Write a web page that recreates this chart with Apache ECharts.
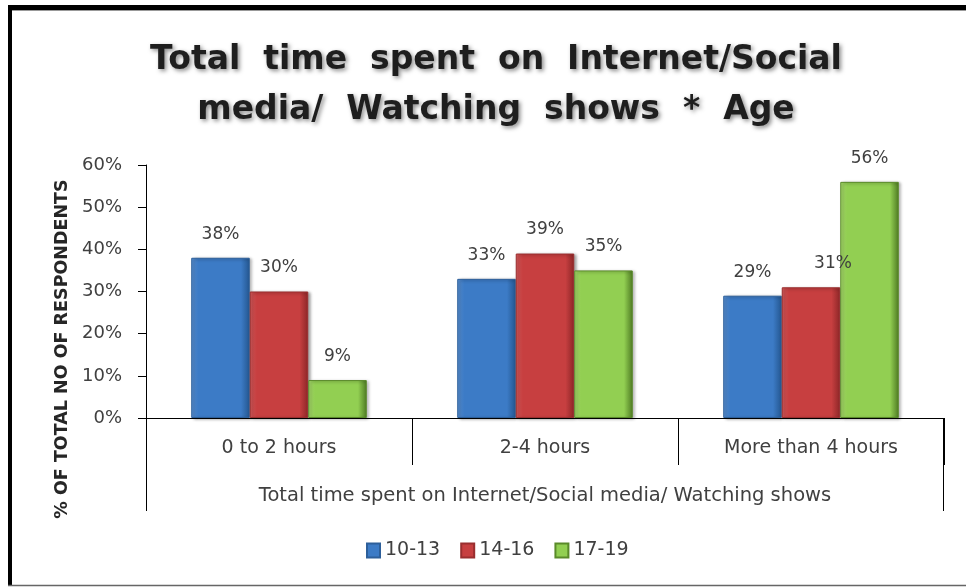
<!DOCTYPE html>
<html>
<head>
<meta charset="utf-8">
<script src="https://cdn.jsdelivr.net/npm/echarts@6/dist/echarts.min.js"></script>
<style>
html,body{margin:0;padding:0;background:#fff;}
#c{width:966px;height:587px;}
</style>
</head>
<body>
<div id="c"></div>
<script>
const categories = ['0 to 2 hours', '2-4 hours', 'More than 4 hours'];
const seriesNames = ['10-13', '14-16', '17-19'];
const age1013 = [38, 33, 29];
const age1416 = [30, 39, 31];
const age1719 = [9, 35, 56];
const yTicks = [0, 10, 20, 30, 40, 50, 60];

const GRID = {left: 146, right: 22, top: 165, bottom: 169};
const W = 966, H = 587;
const axisY = H - GRID.bottom;

function grad(light, main, dark) {
  return new echarts.graphic.LinearGradient(0, 0, 1, 0, [
    {offset: 0, color: light},
    {offset: 0.12, color: main},
    {offset: 0.85, color: main},
    {offset: 1, color: dark}
  ]);
}
const styles = [
  {color: grad('#5b93d6', '#3c7bc6', '#24568f'), borderColor: '#2d5f9a'},
  {color: grad('#d75a5b', '#c73f40', '#8c2627'), borderColor: '#9a2e2f'},
  {color: grad('#a8dc6c', '#92cf52', '#4e7a23'), borderColor: '#5a8a2a'}
];
const values = [age1013, age1416, age1719];

const series = seriesNames.map((name, si) => ({
  name: name,
  type: 'bar',
  barGap: '0%',
  barCategoryGap: '34%',
  data: values[si].map((v, ci) => {
    const item = {value: v};
    if (si === 1 && ci === 2) item.label = {offset: [22, 0]};
    return item;
  }),
  itemStyle: {
    color: styles[si].color,
    borderColor: styles[si].borderColor,
    borderWidth: 1,
    shadowColor: 'rgba(0,0,0,0.35)',
    shadowBlur: 3,
    shadowOffsetX: 2,
    shadowOffsetY: 1
  },
  label: {
    show: true,
    position: 'top',
    distance: 15,
    formatter: p => p.value + '%',
    fontFamily: 'DejaVu Sans',
    fontSize: 17,
    color: '#404040'
  }
}));

const chart = echarts.init(document.getElementById('c'), null, {renderer: 'canvas'});
chart.setOption({
  animation: false,
  backgroundColor: '#fff',
  title: {
    text: 'Total  time  spent  on  Internet/Social\nmedia/  Watching  shows  *  Age',
    left: 491,
    textAlign: 'center',
    top: 30,
    textStyle: {
      fontFamily: 'DejaVu Sans',
      fontWeight: 'bold',
      fontSize: 33,
      lineHeight: 50,
      color: '#1e1e1e',
      textShadowColor: 'rgba(0,0,0,0.45)',
      textShadowBlur: 4,
      textShadowOffsetX: 2,
      textShadowOffsetY: 2
    }
  },
  legend: {
    data: seriesNames,
    left: 366,
    top: 541,
    padding: 0,
    itemWidth: 13,
    itemHeight: 14,
    itemGap: 20,
    icon: 'rect',
    textStyle: {fontFamily: 'DejaVu Sans', fontSize: 19, color: '#404040'}
  },
  grid: {left: GRID.left, right: GRID.right, top: GRID.top, bottom: GRID.bottom},
  xAxis: {
    type: 'category',
    data: categories,
    name: 'Total time spent on Internet/Social media/ Watching shows',
    nameLocation: 'middle',
    nameGap: 68,
    nameTextStyle: {fontFamily: 'DejaVu Sans', fontSize: 19.5, color: '#404040'},
    axisLine: {show: true, lineStyle: {color: '#000', width: 1}},
    axisTick: {show: true, interval: 0, length: 47, lineStyle: {color: '#000'}},
    axisLabel: {fontFamily: 'DejaVu Sans', fontSize: 19, color: '#404040', margin: 21, interval: 0},
    splitLine: {show: false}
  },
  yAxis: {
    type: 'value',
    min: 0,
    max: 60,
    interval: 10,
    axisLine: {show: true, lineStyle: {color: '#000', width: 1}},
    axisTick: {show: true, length: 8, lineStyle: {color: '#000'}},
    axisLabel: {
      formatter: v => (yTicks.indexOf(v) >= 0 ? v + '%' : ''),
      fontFamily: 'DejaVu Sans', fontSize: 18, color: '#404040', margin: 24
    },
    splitLine: {show: false}
  },
  series: series,
  graphic: [
    {type: 'text', x: 62, y: 349, rotation: Math.PI / 2,
     style: {text: '% OF TOTAL NO OF RESPONDENTS', fontFamily: 'DejaVu Sans', fontWeight: 'bold',
             fontSize: 17.5, fill: '#262626', align: 'center', verticalAlign: 'middle'}},
    {type: 'rect', shape: {x: 8, y: 5, width: W - 8, height: 5}, style: {fill: '#000'}, z: 100},
    {type: 'rect', shape: {x: 8, y: 5, width: 4, height: 580}, style: {fill: '#000'}, z: 100},
    {type: 'line', shape: {x1: 12, y1: 10.5, x2: W, y2: 10.5}, style: {stroke: '#999', lineWidth: 1}, z: 100},
    {type: 'line', shape: {x1: 8, y1: 585.5, x2: W, y2: 585.5}, style: {stroke: '#666', lineWidth: 1.5}, z: 100},
    {type: 'line', shape: {x1: GRID.left + 0.5, y1: axisY, x2: GRID.left + 0.5, y2: 511}, style: {stroke: '#000', lineWidth: 1}},
    {type: 'line', shape: {x1: W - GRID.right - 0.5, y1: axisY, x2: W - GRID.right - 0.5, y2: 511}, style: {stroke: '#000', lineWidth: 1}}
  ]
});
</script>
</body>
</html>
